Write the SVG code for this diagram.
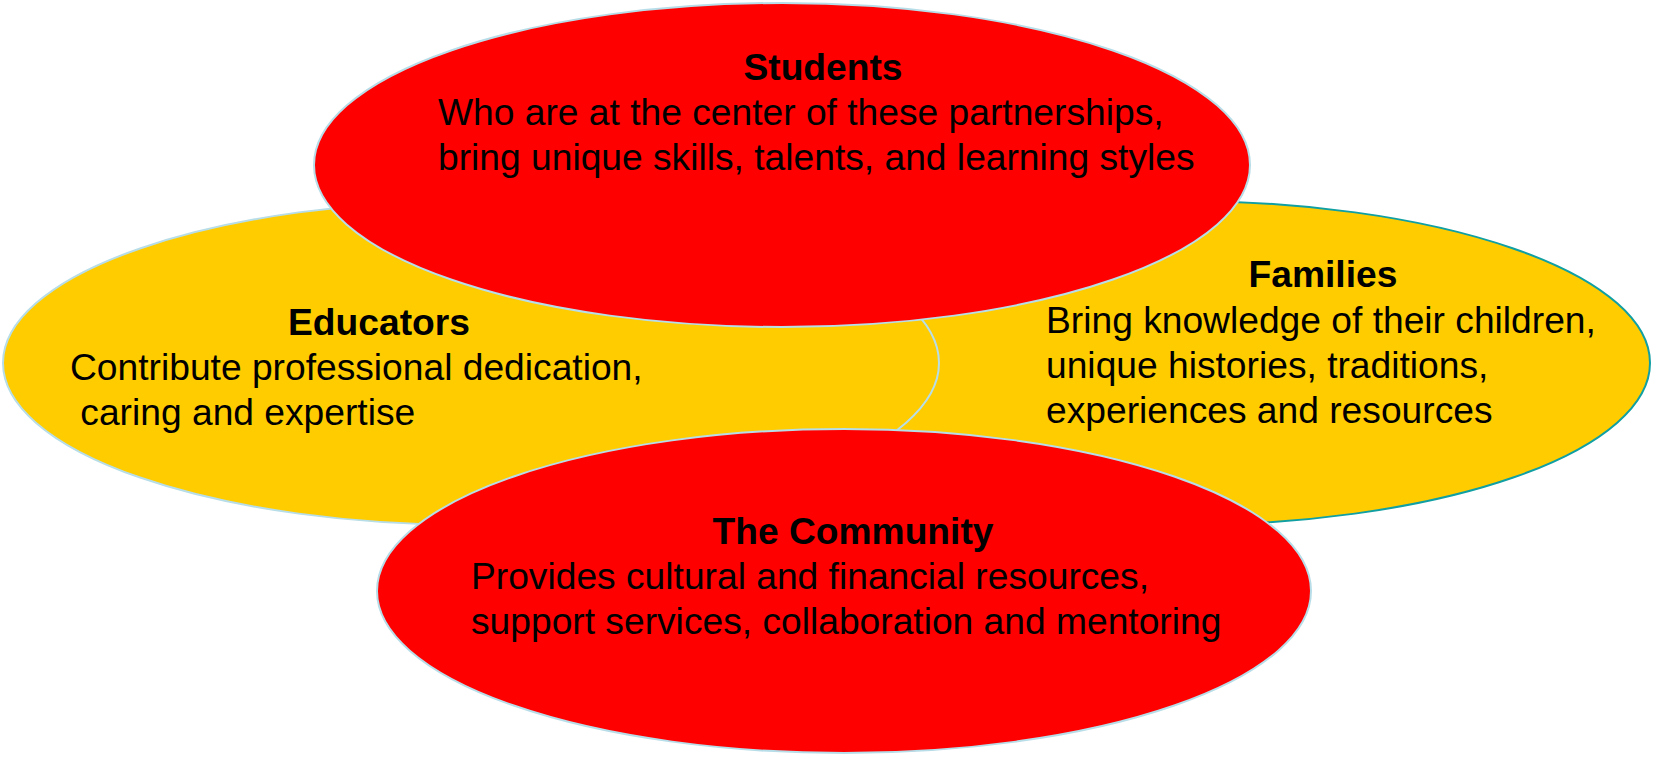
<svg xmlns="http://www.w3.org/2000/svg" width="1654" height="757" viewBox="0 0 1654 757">
<style>
.red{fill:#ff0000;stroke:#b7dde8;stroke-width:2}
.yel{fill:#ffcc00;stroke:#b7dde8;stroke-width:2}
.fam{fill:#ffcc00;stroke:#109fa3;stroke-width:2}
text{font-family:"Liberation Sans",Arial,sans-serif;font-size:37.2px;fill:#000}
.t{font-weight:bold;text-anchor:middle}
</style>
<rect width="1654" height="757" fill="#fff"/>
<g id="families">
<ellipse class="fam" cx="1183" cy="363" rx="467" ry="162"/>
<text class="t" x="1323" y="287">Families</text>
<text x="1046" y="333">Bring knowledge of their children,</text>
<text x="1046" y="378">unique histories, traditions,</text>
<text x="1046" y="423">experiences and resources</text>
</g>
<g id="educators">
<ellipse class="yel" cx="471" cy="363" rx="468" ry="162"/>
<text class="t" x="379" y="335">Educators</text>
<text x="70" y="380">Contribute professional dedication,</text>
<text x="70" y="425" xml:space="preserve"> caring and expertise</text>
</g>
<g id="students">
<ellipse class="red" cx="782" cy="165" rx="468" ry="162"/>
<text class="t" x="823" y="80">Students</text>
<text x="438" y="125">Who are at the center of these partnerships,</text>
<text x="438" y="170">bring unique skills, talents, and learning styles</text>
</g>
<g id="community">
<ellipse class="red" cx="844" cy="591" rx="467" ry="162"/>
<text class="t" x="853" y="544">The Community</text>
<text x="471" y="589">Provides cultural and financial resources,</text>
<text x="471" y="634">support services, collaboration and mentoring</text>
</g>
<g id="connectors"/>
</svg>
